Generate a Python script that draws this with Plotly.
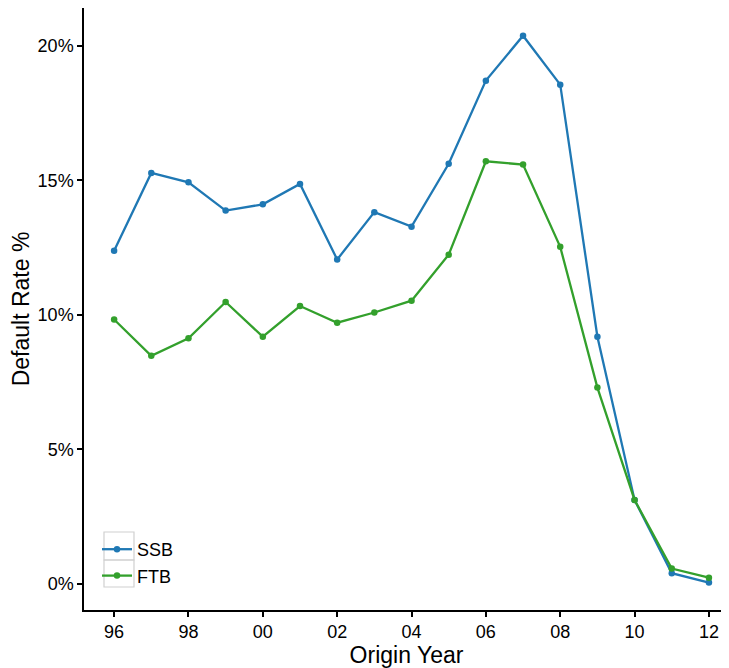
import plotly.graph_objects as go

years = list(range(1996, 2013))
ssb = [12.39, 15.28, 14.93, 13.88, 14.11, 14.87, 12.06, 13.82, 13.28, 15.62,
       18.71, 20.38, 18.56, 9.19, 3.12, 0.40, 0.05]
ftb = [9.83, 8.48, 9.13, 10.48, 9.19, 10.33, 9.71, 10.09, 10.53, 12.24,
       15.71, 15.59, 12.53, 7.30, 3.12, 0.57, 0.23]
x_tickvals = [1996, 1998, 2000, 2002, 2004, 2006, 2008, 2010, 2012]
x_ticktext = ["96", "98", "00", "02", "04", "06", "08", "10", "12"]
y_tickvals = [0, 5, 10, 15, 20]
y_ticktext = ["0%", "5%", "10%", "15%", "20%"]

BLUE = "#1f78b4"
GREEN = "#33a02c"
FONT = "Liberation Sans, Arial, sans-serif"

fig = go.Figure()
fig.add_trace(go.Scatter(x=years, y=ssb, name="SSB", mode="lines+markers",
                         line=dict(color=BLUE, width=2.3),
                         marker=dict(color=BLUE, size=6.5)))
fig.add_trace(go.Scatter(x=years, y=ftb, name="FTB", mode="lines+markers",
                         line=dict(color=GREEN, width=2.3),
                         marker=dict(color=GREEN, size=6.5)))

# page body has an 8px margin; compensate so the plot lands where the reference is
OFF = 8
W, H = 729 - OFF, 668 - OFF
ml, mr, mt, mb = 84 - OFF, 0, 8 - OFF, 58
pw, ph = W - ml - mr, H - mt - mb

def px_x(v):  # screen px -> paper
    return (v - OFF - ml) / pw

def px_y(v):
    return (H - mb - (v - OFF)) / ph

shapes = []
for top, bot in [(532, 560), (560, 587)]:
    shapes.append(dict(type="rect", xref="paper", yref="paper",
                       x0=px_x(104), x1=px_x(134), y0=px_y(bot), y1=px_y(top),
                       line=dict(color="#d0d0d0", width=1.2), layer="below"))

fig.update_layout(
    width=W, height=H,
    margin=dict(l=ml, r=mr, t=mt, b=mb, autoexpand=False),
    plot_bgcolor="white", paper_bgcolor="white",
    font=dict(family=FONT, size=18, color="black"),
    showlegend=True,
    legend=dict(x=px_x(97), y=px_y(531), xanchor="left", yanchor="top",
                bgcolor="rgba(0,0,0,0)", font=dict(size=18),
                itemwidth=30, tracegroupgap=0),
    shapes=shapes,
    xaxis=dict(range=[1995.19, 2012.54], tickvals=x_tickvals, ticktext=x_ticktext,
               showgrid=False, zeroline=False, showline=True, linecolor="black",
               linewidth=1.5, ticks="outside", ticklen=5, tickwidth=1.5,
               tickcolor="black", tickfont=dict(size=18), automargin=False,
               title=dict(text="Origin Year", font=dict(size=23), standoff=0)),
    yaxis=dict(range=[-0.97, 21.41], tickvals=y_tickvals, ticktext=y_ticktext,
               showgrid=False, zeroline=False, showline=True, linecolor="black",
               linewidth=1.5, ticks="outside", ticklen=5, tickwidth=1.5,
               tickcolor="black", tickfont=dict(size=18), automargin=False,
               title=dict(text="Default Rate %", font=dict(size=23), standoff=8)),
)

fig.write_html("out.html")
